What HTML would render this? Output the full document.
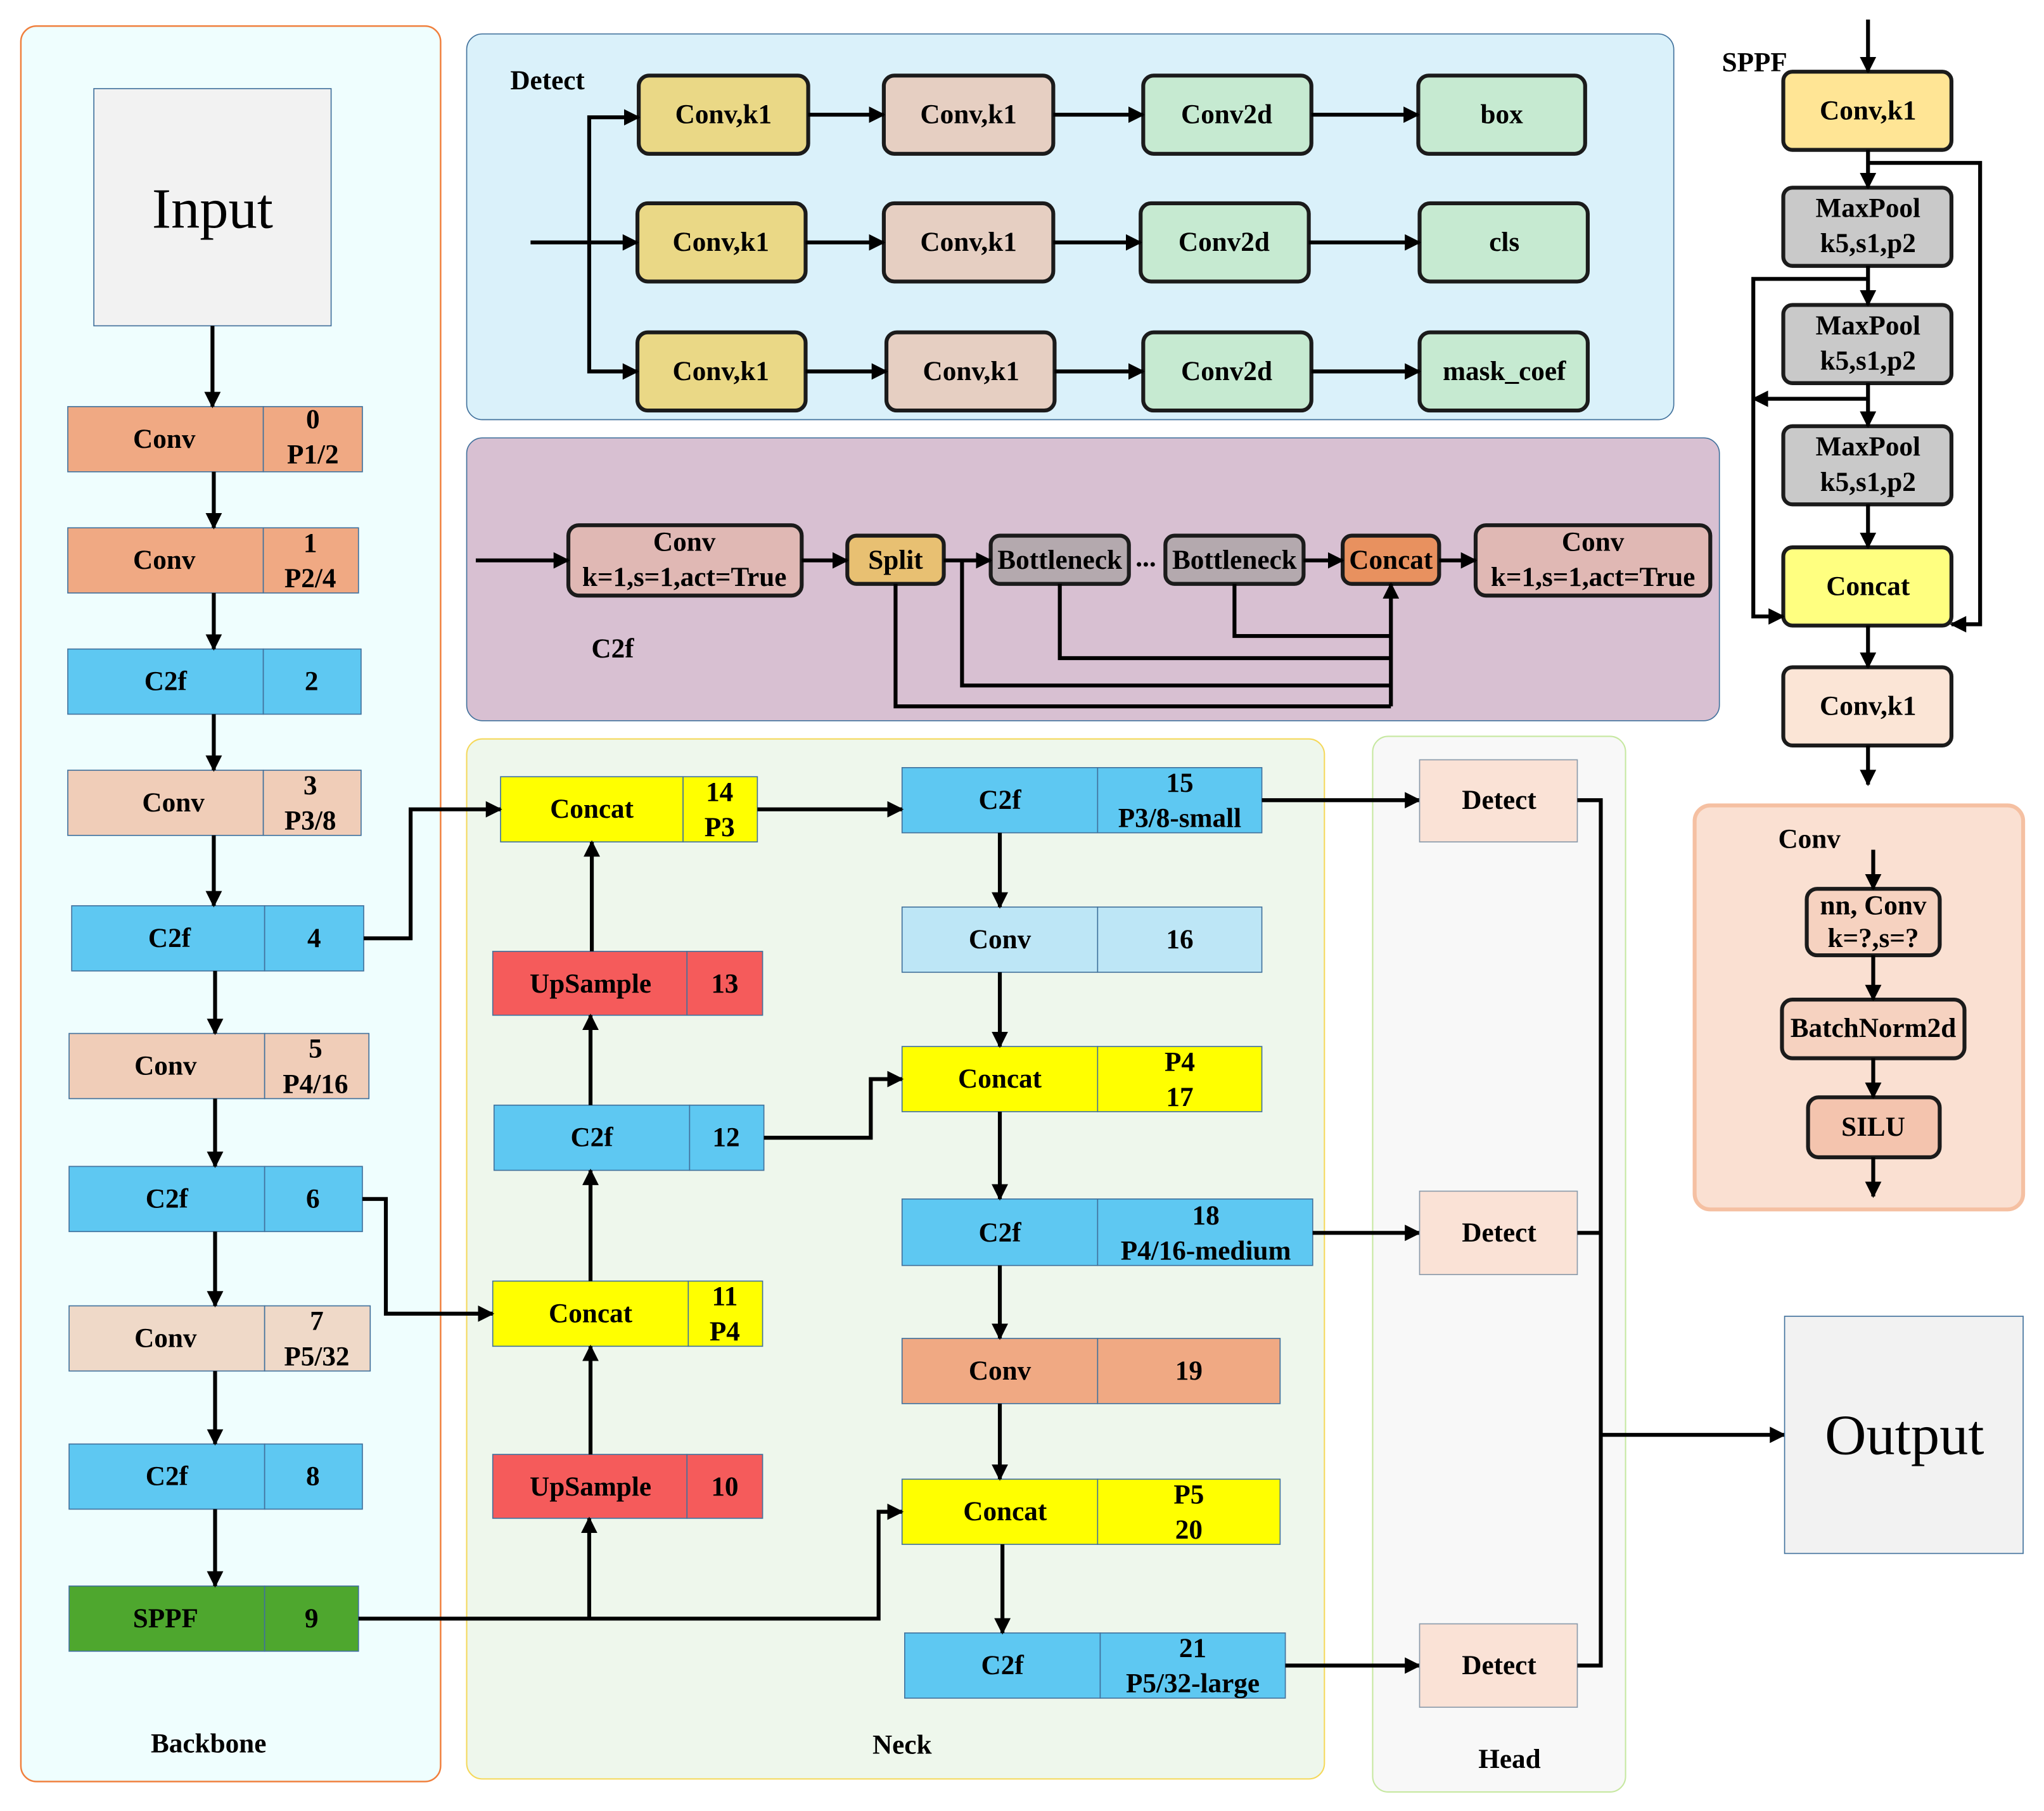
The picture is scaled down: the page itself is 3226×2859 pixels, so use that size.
<!DOCTYPE html>
<html><head><meta charset="utf-8"><style>
html,body{margin:0;padding:0;background:#fff;}
svg{display:block;}
text{font-family:"Liberation Serif",serif;font-weight:bold;font-size:21px;fill:#000;text-anchor:middle;dominant-baseline:central;}
.k{stroke:#000;stroke-width:3;fill:none;}
.bx{stroke:#1b1b1b;stroke-width:3;}
.cl{stroke:#41719c;stroke-width:0.8;}
</style></head><body>
<svg width="3226" height="2859" viewBox="0 0 1568 1389.6" xmlns="http://www.w3.org/2000/svg">
<defs><marker id="a" viewBox="0 0 10 10" refX="9" refY="5" markerWidth="4.2" markerHeight="4.2" orient="auto" markerUnits="strokeWidth"><path d="M0,0 L10,5 L0,10 z" fill="#000"/></marker></defs>

<!-- Backbone panel -->
<rect x="16" y="20" width="322" height="1347" rx="12" fill="#effefe" stroke="#f07f3c" stroke-width="1.2"/>
<text x="160" y="1338">Backbone</text>
<rect x="72" y="68" width="182" height="182" fill="#f2f2f2" class="cl"/>
<text x="163" y="160" style="font-size:44px;font-weight:normal">Input</text>

<g class="cl">
<rect x="52" y="312" width="150" height="50" fill="#f0a983"/><rect x="202" y="312" width="76" height="50" fill="#f0a983"/>
<rect x="52" y="405" width="150" height="50" fill="#f0a983"/><rect x="202" y="405" width="73" height="50" fill="#f0a983"/>
<rect x="52" y="498" width="150" height="50" fill="#5ec8f2"/><rect x="202" y="498" width="75" height="50" fill="#5ec8f2"/>
<rect x="52" y="591" width="150" height="50" fill="#f0cdb8"/><rect x="202" y="591" width="75" height="50" fill="#f0cdb8"/>
<rect x="55" y="695" width="148" height="50" fill="#5ec8f2"/><rect x="203" y="695" width="76" height="50" fill="#5ec8f2"/>
<rect x="53" y="793" width="150" height="50" fill="#f0cdb8"/><rect x="203" y="793" width="80" height="50" fill="#f0cdb8"/>
<rect x="53" y="895" width="150" height="50" fill="#5ec8f2"/><rect x="203" y="895" width="75" height="50" fill="#5ec8f2"/>
<rect x="53" y="1002" width="150" height="50" fill="#efd9c8"/><rect x="203" y="1002" width="81" height="50" fill="#efd9c8"/>
<rect x="53" y="1108" width="150" height="50" fill="#5ec8f2"/><rect x="203" y="1108" width="75" height="50" fill="#5ec8f2"/>
<rect x="53" y="1217" width="150" height="50" fill="#4ea72e"/><rect x="203" y="1217" width="72" height="50" fill="#4ea72e"/>
</g>
<text x="126" y="337">Conv</text><text x="240" y="322">0</text><text x="240" y="349">P1/2</text>
<text x="126" y="430">Conv</text><text x="238" y="417">1</text><text x="238" y="444">P2/4</text>
<text x="127" y="523">C2f</text><text x="239" y="523">2</text>
<text x="133" y="616">Conv</text><text x="238" y="603">3</text><text x="238" y="630">P3/8</text>
<text x="130" y="720">C2f</text><text x="241" y="720">4</text>
<text x="127" y="818">Conv</text><text x="242" y="805">5</text><text x="242" y="832">P4/16</text>
<text x="128" y="920">C2f</text><text x="240" y="920">6</text>
<text x="127" y="1027">Conv</text><text x="243" y="1014">7</text><text x="243" y="1041">P5/32</text>
<text x="128" y="1133">C2f</text><text x="240" y="1133">8</text>
<text x="127" y="1242">SPPF</text><text x="239" y="1242">9</text>
<g class="k" marker-end="url(#a)">
<line x1="163" y1="250" x2="163" y2="312"/><line x1="164" y1="362" x2="164" y2="405"/><line x1="164" y1="455" x2="164" y2="498"/>
<line x1="164" y1="548" x2="164" y2="591"/><line x1="164" y1="641" x2="164" y2="695"/><line x1="165" y1="745" x2="165" y2="793"/>
<line x1="165" y1="843" x2="165" y2="895"/><line x1="165" y1="945" x2="165" y2="1002"/><line x1="165" y1="1052" x2="165" y2="1108"/>
<line x1="165" y1="1158" x2="165" y2="1217"/>
</g>

<!-- Detect panel -->
<rect x="358" y="26" width="926" height="296" rx="12" fill="#daf1fa" class="cl"/>
<text x="420" y="62">Detect</text>
<g class="bx">
<rect x="490" y="58" width="130" height="60" rx="8" fill="#ead886"/><rect x="678" y="58" width="130" height="60" rx="8" fill="#e6cfc2"/>
<rect x="877" y="58" width="129" height="60" rx="8" fill="#c6ead1"/><rect x="1088" y="58" width="128" height="60" rx="8" fill="#c6ead1"/>
<rect x="489" y="156" width="129" height="60" rx="8" fill="#ead886"/><rect x="678" y="156" width="130" height="60" rx="8" fill="#e6cfc2"/>
<rect x="875" y="156" width="129" height="60" rx="8" fill="#c6ead1"/><rect x="1089" y="156" width="129" height="60" rx="8" fill="#c6ead1"/>
<rect x="489" y="255" width="129" height="60" rx="8" fill="#ead886"/><rect x="680" y="255" width="129" height="60" rx="8" fill="#e6cfc2"/>
<rect x="877" y="255" width="129" height="60" rx="8" fill="#c6ead1"/><rect x="1089" y="255" width="129" height="60" rx="8" fill="#c6ead1"/>
</g>
<text x="555" y="88">Conv,k1</text><text x="743" y="88">Conv,k1</text><text x="941" y="88">Conv2d</text><text x="1152" y="88">box</text>
<text x="553" y="186">Conv,k1</text><text x="743" y="186">Conv,k1</text><text x="939" y="186">Conv2d</text><text x="1154" y="186">cls</text>
<text x="553" y="285">Conv,k1</text><text x="745" y="285">Conv,k1</text><text x="941" y="285">Conv2d</text><text x="1154" y="285">mask_coef</text>
<g class="k" marker-end="url(#a)">
<line x1="407" y1="186" x2="489" y2="186"/>
<polyline points="452,186 452,90 490,90"/><polyline points="452,186 452,285 489,285"/>
<line x1="620" y1="88" x2="678" y2="88"/><line x1="808" y1="88" x2="877" y2="88"/><line x1="1006" y1="88" x2="1088" y2="88"/>
<line x1="618" y1="186" x2="678" y2="186"/><line x1="808" y1="186" x2="875" y2="186"/><line x1="1004" y1="186" x2="1089" y2="186"/>
<line x1="618" y1="285" x2="680" y2="285"/><line x1="809" y1="285" x2="877" y2="285"/><line x1="1006" y1="285" x2="1089" y2="285"/>
</g>

<!-- C2f panel -->
<rect x="358" y="336" width="961" height="217" rx="12" fill="#d8c0d2" class="cl"/>
<text x="470" y="498">C2f</text>
<g class="bx">
<rect x="436" y="403" width="179" height="54" rx="8" fill="#e0b8b4"/>
<rect x="650" y="411" width="74" height="37" rx="7" fill="#e8c072"/>
<rect x="760" y="411" width="106" height="37" rx="7" fill="#b4a9ae"/>
<rect x="894" y="411" width="106" height="37" rx="7" fill="#b4a9ae"/>
<rect x="1030" y="411" width="74" height="37" rx="7" fill="#e8915f"/>
<rect x="1132" y="403" width="180" height="54" rx="8" fill="#e0b8b4"/>
</g>
<text x="525" y="416">Conv</text><text x="525" y="443">k=1,s=1,act=True</text>
<text x="687" y="430">Split</text><text x="813" y="430">Bottleneck</text><text x="879" y="428">...</text>
<text x="947" y="430">Bottleneck</text><text x="1067" y="430">Concat</text>
<text x="1222" y="416">Conv</text><text x="1222" y="443">k=1,s=1,act=True</text>
<g class="k">
<polyline points="687,448 687,542 1067,542"/><polyline points="738,430 738,526 1067,526"/>
<polyline points="813,448 813,505 1067,505"/><polyline points="947,448 947,488 1067,488"/>
</g>
<g class="k" marker-end="url(#a)">
<line x1="365" y1="430" x2="436" y2="430"/><line x1="615" y1="430" x2="650" y2="430"/>
<line x1="724" y1="430" x2="760" y2="430"/><line x1="1000" y1="430" x2="1030" y2="430"/>
<line x1="1104" y1="430" x2="1132" y2="430"/><line x1="1067" y1="542" x2="1067" y2="448"/>
</g>

<!-- Neck panel -->
<rect x="358" y="567" width="658" height="798" rx="12" fill="#eef7ec" stroke="#f5d85a" stroke-width="1"/>
<text x="692" y="1339">Neck</text>
<!-- Head panel (drawn before connectors) -->
<rect x="1053" y="565" width="194" height="810" rx="12" fill="#f8f8f8" stroke="#c6e8a0" stroke-width="1"/>
<text x="1158" y="1350">Head</text>

<g class="cl">
<rect x="384" y="596" width="140" height="50" fill="#ffff00"/><rect x="524" y="596" width="57" height="50" fill="#ffff00"/>
<rect x="378" y="730" width="149" height="49" fill="#f55b5b"/><rect x="527" y="730" width="58" height="49" fill="#f55b5b"/>
<rect x="379" y="848" width="150" height="50" fill="#5ec8f2"/><rect x="529" y="848" width="57" height="50" fill="#5ec8f2"/>
<rect x="378" y="983" width="150" height="50" fill="#ffff00"/><rect x="528" y="983" width="57" height="50" fill="#ffff00"/>
<rect x="378" y="1116" width="149" height="49" fill="#f55b5b"/><rect x="527" y="1116" width="58" height="49" fill="#f55b5b"/>
<rect x="692" y="589" width="150" height="50" fill="#5ec8f2"/><rect x="842" y="589" width="126" height="50" fill="#5ec8f2"/>
<rect x="692" y="696" width="150" height="50" fill="#bde6f6"/><rect x="842" y="696" width="126" height="50" fill="#bde6f6"/>
<rect x="692" y="803" width="150" height="50" fill="#ffff00"/><rect x="842" y="803" width="126" height="50" fill="#ffff00"/>
<rect x="692" y="920" width="150" height="51" fill="#5ec8f2"/><rect x="842" y="920" width="165" height="51" fill="#5ec8f2"/>
<rect x="692" y="1027" width="150" height="50" fill="#f0a983"/><rect x="842" y="1027" width="140" height="50" fill="#f0a983"/>
<rect x="692" y="1135" width="150" height="50" fill="#ffff00"/><rect x="842" y="1135" width="140" height="50" fill="#ffff00"/>
<rect x="694" y="1253" width="150" height="50" fill="#5ec8f2"/><rect x="844" y="1253" width="142" height="50" fill="#5ec8f2"/>
</g>
<text x="454" y="621">Concat</text><text x="552" y="608">14</text><text x="552" y="635">P3</text>
<text x="453" y="755">UpSample</text><text x="556" y="755">13</text>
<text x="454" y="873">C2f</text><text x="557" y="873">12</text>
<text x="453" y="1008">Concat</text><text x="556" y="995">11</text><text x="556" y="1022">P4</text>
<text x="453" y="1141">UpSample</text><text x="556" y="1141">10</text>
<text x="767" y="614">C2f</text><text x="905" y="601">15</text><text x="905" y="628">P3/8-small</text>
<text x="767" y="721">Conv</text><text x="905" y="721">16</text>
<text x="767" y="828">Concat</text><text x="905" y="815">P4</text><text x="905" y="842">17</text>
<text x="767" y="946">C2f</text><text x="925" y="933">18</text><text x="925" y="960">P4/16-medium</text>
<text x="767" y="1052">Conv</text><text x="912" y="1052">19</text>
<text x="771" y="1160">Concat</text><text x="912" y="1147">P5</text><text x="912" y="1174">20</text>
<text x="769" y="1278">C2f</text><text x="915" y="1265">21</text><text x="915" y="1292">P5/32-large</text>
<g class="k" marker-end="url(#a)">
<polyline points="279,720 315,720 315,621 384,621"/>
<line x1="581" y1="621" x2="692" y2="621"/>
<line x1="454" y1="730" x2="454" y2="646"/><line x1="453" y1="848" x2="453" y2="779"/>
<polyline points="586,873 668,873 668,828 692,828"/>
<line x1="453" y1="983" x2="453" y2="898"/><line x1="453" y1="1116" x2="453" y2="1033"/>
<polyline points="278,920 296,920 296,1008 378,1008"/>
<polyline points="275,1242 674,1242 674,1160 692,1160"/>
<line x1="452" y1="1242" x2="452" y2="1165"/>
<line x1="767" y1="639" x2="767" y2="696"/><line x1="767" y1="746" x2="767" y2="803"/>
<line x1="767" y1="853" x2="767" y2="920"/><line x1="767" y1="971" x2="767" y2="1027"/>
<line x1="767" y1="1077" x2="767" y2="1135"/><line x1="769" y1="1185" x2="769" y2="1253"/>
<line x1="968" y1="614" x2="1089" y2="614"/><line x1="1007" y1="946" x2="1089" y2="946"/>
<line x1="986" y1="1278" x2="1089" y2="1278"/>
</g>

<g stroke="#8a9aaa" stroke-width="0.8" fill="#fae2d6">
<rect x="1089" y="583" width="121" height="63"/><rect x="1089" y="914" width="121" height="64"/><rect x="1089" y="1246" width="121" height="64"/>
</g>
<text x="1150" y="614">Detect</text><text x="1150" y="946">Detect</text><text x="1150" y="1278">Detect</text>
<g class="k">
<polyline points="1210,614 1228,614 1228,1278 1210,1278"/><line x1="1210" y1="946" x2="1228" y2="946"/>
</g>
<line class="k" x1="1228" y1="1101" x2="1369" y2="1101" marker-end="url(#a)"/>
<rect x="1369" y="1010" width="183" height="182" fill="#f2f2f2" class="cl"/>
<text x="1461" y="1101" style="font-size:44px;font-weight:normal">Output</text>

<!-- SPPF -->
<text x="1346" y="48">SPPF</text>
<g class="bx">
<rect x="1368" y="55" width="129" height="60" rx="7" fill="#ffe595"/>
<rect x="1368" y="144" width="129" height="60" rx="7" fill="#c9c9c9"/>
<rect x="1368" y="234" width="129" height="60" rx="7" fill="#c9c9c9"/>
<rect x="1368" y="327" width="129" height="60" rx="7" fill="#c9c9c9"/>
<rect x="1368" y="420" width="129" height="60" rx="7" fill="#ffff80"/>
<rect x="1368" y="512" width="129" height="60" rx="7" fill="#fbe5d6"/>
</g>
<text x="1433" y="85">Conv,k1</text>
<text x="1433" y="160">MaxPool</text><text x="1433" y="187">k5,s1,p2</text>
<text x="1433" y="250">MaxPool</text><text x="1433" y="277">k5,s1,p2</text>
<text x="1433" y="343">MaxPool</text><text x="1433" y="370">k5,s1,p2</text>
<text x="1433" y="450">Concat</text><text x="1433" y="542">Conv,k1</text>
<g class="k" marker-end="url(#a)">
<line x1="1433" y1="15" x2="1433" y2="55"/><line x1="1433" y1="115" x2="1433" y2="144"/>
<line x1="1433" y1="204" x2="1433" y2="234"/><line x1="1433" y1="294" x2="1433" y2="327"/>
<line x1="1433" y1="387" x2="1433" y2="420"/><line x1="1433" y1="480" x2="1433" y2="512"/>
<line x1="1433" y1="572" x2="1433" y2="602"/>
<polyline points="1433,125 1519,125 1519,479 1497,479"/>
<polyline points="1433,214 1345,214 1345,473 1368,473"/>
<line x1="1433" y1="306" x2="1345" y2="306"/>
</g>

<!-- Conv panel -->
<rect x="1300" y="618" width="252" height="310" rx="12" fill="#fae0d2" stroke="#f5c0a2" stroke-width="3"/>
<text x="1388" y="644">Conv</text>
<g class="bx">
<rect x="1386" y="682" width="102" height="51" rx="8" fill="#f6d2c0"/>
<rect x="1367" y="767" width="140" height="45" rx="8" fill="#f6d2c0"/>
<rect x="1387" y="842" width="101" height="46" rx="8" fill="#f4c4ae"/>
</g>
<text x="1437" y="695">nn, Conv</text><text x="1437" y="720">k=?,s=?</text>
<text x="1437" y="789">BatchNorm2d</text><text x="1437" y="865">SILU</text>
<g class="k" marker-end="url(#a)">
<line x1="1437" y1="652" x2="1437" y2="682"/><line x1="1437" y1="733" x2="1437" y2="767"/>
<line x1="1437" y1="812" x2="1437" y2="842"/><line x1="1437" y1="888" x2="1437" y2="918"/>
</g>
</svg>
</body></html>
